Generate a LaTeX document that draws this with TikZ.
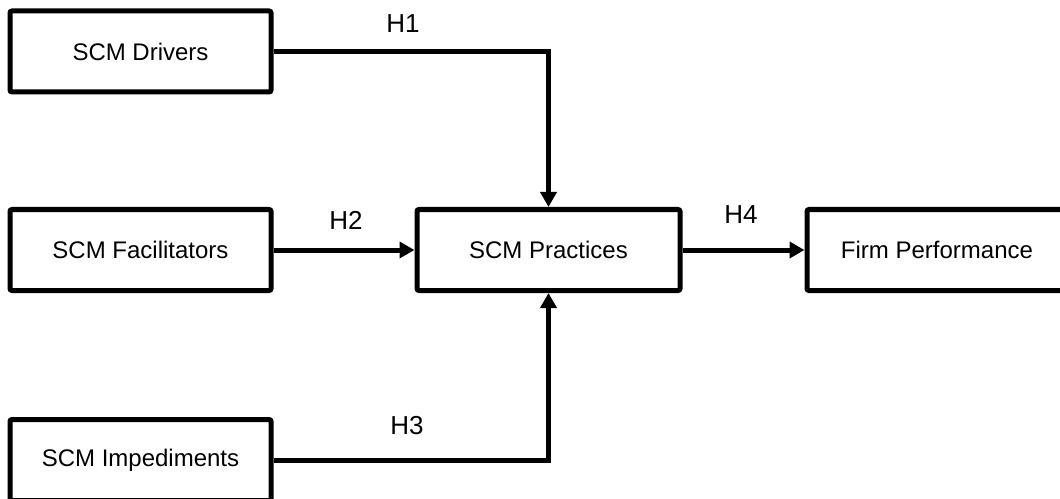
\documentclass[tikz,border=0pt]{standalone}
\usepackage{fontspec}
\setmainfont{Liberation Sans}
\usetikzlibrary{arrows.meta}
\begin{document}
\begin{tikzpicture}[x=0.75pt,y=-0.75pt,
  box/.style={draw=black,line width=3.75pt,rounded corners=1.5pt,inner sep=0pt,
    minimum height=60.75pt,font=\fontsize{18}{21}\selectfont},
  link/.style={line width=3.75pt,-{Triangle[length=11.25pt,width=12pt]}},
  hlabel/.style={inner sep=0pt,font=\fontsize{19.5}{23}\selectfont}]
\useasboundingbox (0,0) rectangle (1060,499);
\clip (0,0) rectangle (1060,499);
% constructs
\node[box,minimum width=195.75pt] (drv) at (140.5,51.5) {SCM Drivers};
\node[box,minimum width=195.75pt] (fac) at (140.5,250) {SCM Facilitators};
\node[box,minimum width=195.75pt] (imp) at (140.5,460) {SCM Impediments};
\node[box,minimum width=197.25pt] (prc) at (548.5,250) {SCM Practices};
\node[box,minimum width=195pt] (frm) at (937,250) {Firm Performance};
% hypothesised paths
\draw[link] (drv.east) -| (prc.north);
\draw[link] (fac.east) -- (prc.west);
\draw[link] (imp.east) -| (prc.south);
\draw[link] (prc.east) -- (frm.west);
% path labels
\node[hlabel] (h1) at (403,24) {H1};
\node[hlabel] (h2) at (346,220) {H2};
\node[hlabel] (h3) at (407,426) {H3};
\node[hlabel] (h4) at (741,215) {H4};
\end{tikzpicture}
\end{document}
